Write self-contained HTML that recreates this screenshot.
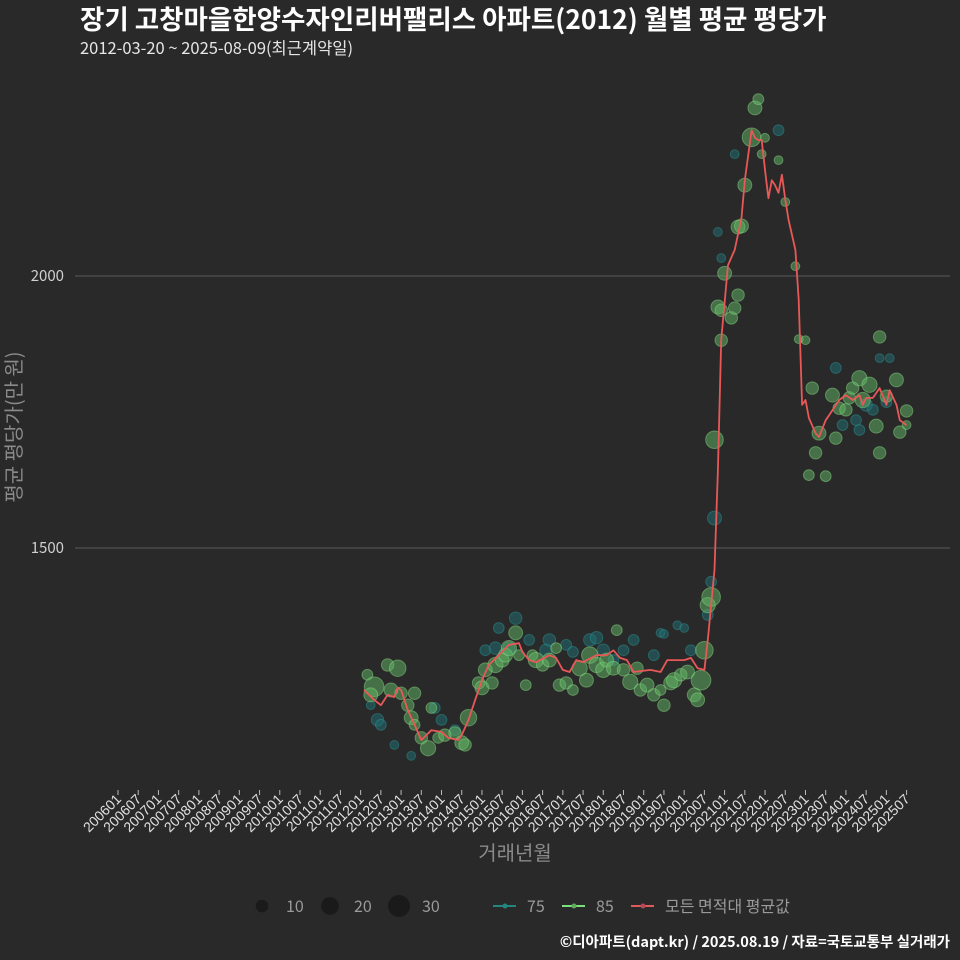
<!DOCTYPE html>
<html><head><meta charset="utf-8">
<style>
html,body{margin:0;padding:0;background:#2a2929;}
svg{display:block;font-family:"Noto Sans CJK KR","Liberation Sans",sans-serif;}
.xt{font-family:"Liberation Sans",sans-serif !important;font-size:14px;}
</style></head>
<body>
<svg id="chart" width="960" height="960" viewBox="0 0 960 960" xmlns="http://www.w3.org/2000/svg">
<rect width="960" height="960" fill="#2a2929"/>
<text x="80" y="29" fill="#ffffff" font-size="26.5" font-weight="bold">장기 고창마을한양수자인리버팰리스 아파트(2012) 월별 평균 평당가</text>
<text x="80" y="54" fill="#e6e6e6" font-size="16.5">2012-03-20 ~ 2025-08-09(최근계약일)</text>
<g id="grid"></g>
<g id="xaxis"></g>
<g id="bubbles75"></g>
<g id="bubbles85"></g>
<g id="avgline"></g>
<text x="515" y="860" text-anchor="middle" fill="#8a8a8a" font-size="20">거래년월</text>
<text transform="translate(21,427) rotate(-90)" text-anchor="middle" fill="#8a8a8a" font-size="20">평균 평당가(만 원)</text>
<g font-size="16" fill="#9a9a9a">
  <circle cx="262" cy="906" r="6.3" fill="#1a1a1a"/>
  <text x="286" y="912">10</text>
  <circle cx="330" cy="906" r="8.9" fill="#1a1a1a"/>
  <text x="354" y="912">20</text>
  <circle cx="399" cy="906" r="11" fill="#1a1a1a"/>
  <text x="422" y="912">30</text>
  <line x1="493" y1="906" x2="516" y2="906" stroke="#23877f" stroke-width="2"/>
  <circle cx="505" cy="906" r="2.5" fill="#23877f"/>
  <text x="527" y="912">75</text>
  <line x1="562" y1="906" x2="585" y2="906" stroke="#7be07a" stroke-width="2"/>
  <circle cx="574" cy="906" r="2.5" fill="#5fa85e"/>
  <text x="596" y="912">85</text>
  <line x1="631" y1="906" x2="654" y2="906" stroke="#e05a5a" stroke-width="2"/>
  <circle cx="643" cy="906" r="2.5" fill="#b04a5a"/>
  <text x="665" y="912">모든 면적대 평균값</text>
</g>
<text x="950" y="947" text-anchor="end" fill="#ffffff" font-size="14.5" font-weight="bold">©디아파트(dapt.kr) / 2025.08.19 / 자료=국토교통부 실거래가</text>
</svg>
<script>
// months are indices since 2006-01
const avgMonths=[73,76,78,80,82,83,84,86,88,90,91,93,96,98,101,102,104,106,108,110,113,116,119,120,122,124,128,130,132,134,136,138,142,145,147,149,151,153,158,161,163,168,170,172,174,175,177,178,179,181,183,185,186,188,189,190,191,192,193,194,195,196,197,198,199,201,202,203,204,205,207,208,210,211,214,216,218,220,221,222,224,226,228,229,231,232,234,235];
const avgValues=[1239,1221,1211,1230,1226,1243,1239,1202,1175,1147,1153,1165,1162,1151,1147,1156,1184,1221,1257,1285,1303,1322,1325,1309,1294,1290,1303,1298,1276,1272,1294,1290,1303,1303,1312,1298,1294,1272,1276,1272,1294,1294,1298,1279,1276,1331,1460,1643,1882,2020,2048,2107,2176,2268,2254,2250,2250,2195,2143,2176,2167,2153,2186,2140,2103,2048,1956,1763,1772,1739,1711,1704,1735,1744,1772,1781,1772,1781,1763,1776,1776,1794,1763,1790,1763,1735,1726];
const g85Months=[74,76,75,80,83,81,84,86,87,88,88,90,92,93,95,97,100,102,103,104,107,108,109,111,112,114,115,116,118,119,121,123,124,126,128,130,131,133,135,137,139,140,142,144,145,147,148,150,152,154,155,157,159,161,162,164,165,167,169,171,172,173,174,175,176,177,179,178,179,180,182,183,184,184,185,186,188,189,190,191,192,196,198,201,202,204,206,205,207,208,210,212,213,214,216,217,218,220,221,223,225,226,226,228,231,232,234,234];
const g85Values=[1267,1245,1230,1285,1279,1239,1233,1211,1188,1233,1175,1151,1132,1206,1151,1156,1160,1142,1138,1188,1252,1243,1276,1252,1285,1294,1303,1316,1344,1303,1248,1303,1294,1285,1294,1316,1248,1252,1239,1279,1257,1303,1285,1276,1294,1279,1349,1276,1254,1279,1239,1248,1230,1239,1211,1252,1257,1267,1272,1230,1221,1257,1312,1395,1410,1699,1882,1943,1937,2005,1923,1941,1965,2090,2092,2167,2255,2309,2325,2224,2254,2213,2136,2018,1884,1882,1794,1634,1675,1711,1632,1781,1702,1757,1754,1776,1794,1812,1772,1800,1724,1888,1675,1779,1809,1713,1752,1726];
const g85Counts=[6,20,10,8,14,10,8,8,10,8,6,8,12,6,6,8,8,10,8,14,8,10,10,8,12,10,10,12,10,6,6,6,12,8,10,6,8,8,6,12,10,14,12,12,10,10,6,8,12,8,8,10,8,6,8,10,12,8,10,10,10,20,16,12,18,16,8,10,8,10,8,8,8,10,10,10,18,10,6,4,4,4,4,4,4,4,8,6,8,10,6,10,8,8,8,8,8,12,12,12,10,8,8,8,10,8,8,4];
const t75Months=[75,77,78,82,87,94,96,100,109,112,113,116,118,122,127,128,133,135,140,142,144,147,150,153,159,161,162,166,168,170,175,176,177,178,179,183,196,213,215,219,220,222,224,226,229,228];
const t75Values=[1211,1184,1175,1138,1118,1206,1184,1165,1312,1316,1353,1316,1371,1331,1312,1331,1322,1309,1331,1335,1312,1294,1312,1331,1303,1344,1342,1358,1353,1312,1377,1438,1555,2081,2033,2224,2268,1831,1726,1735,1717,1763,1754,1849,1849,1768];
const t75Counts=[4,8,6,4,4,6,6,6,6,8,6,8,8,6,8,8,6,6,8,8,8,6,6,6,6,4,4,4,4,6,6,6,10,4,4,4,6,6,6,6,6,8,6,4,4,6];
const xTickLabels=[];
for(let y=2006;y<=2025;y++){xTickLabels.push(y+"01");xTickLabels.push(y+"07");}
const yTicks=[1500,2000];

const NS="http://www.w3.org/2000/svg";
function xScale(m){return 118+m*3.37;}
function yScale(v){return 548-(v-1500)*0.544;}
function rScale(n){return 2.2*Math.sqrt(n);}
function mk(tag,attrs,parent){const e=document.createElementNS(NS,tag);for(const k in attrs)e.setAttribute(k,attrs[k]);parent.appendChild(e);return e;}

const grid=document.getElementById('grid');
yTicks.forEach(t=>{
  const l=mk('line',{x1:75,x2:950,y1:yScale(t),y2:yScale(t),stroke:'#5a5a5a','stroke-width':1},grid);
  
  
  const tx=mk('text',{x:64,y:yScale(t)+5,'text-anchor':'end',fill:'#d0d0d0','font-size':15},grid);
  tx.textContent=t;
  
  
});
const xa=document.getElementById('xaxis');
xTickLabels.forEach((lab,i)=>{
  const x=xScale(i*6);
  const tk=mk('line',{x1:x,x2:x,y1:790,y2:795,stroke:'#bbbbbb','stroke-width':1},xa);
  
  
  const t=mk('text',{transform:`translate(${x+4},800) rotate(-45)`,'text-anchor':'end',fill:'#e0e0e0','class':'xt'},xa);
  t.textContent=lab;
  
  
});
function bubbles(id,months,values,counts,fill,stroke,name){
  const g=document.getElementById(id);
  months.forEach((m,i)=>{
    const c=mk('circle',{cx:xScale(m),cy:yScale(values[i]),r:rScale(counts[i]),fill:fill,'fill-opacity':0.5,stroke:stroke,'stroke-opacity':0.45,'stroke-width':1},g);
    
    
  });
}
bubbles('bubbles75',t75Months,t75Values,t75Counts,'#1f6f73','#2a9a98','bubble-75');
bubbles('bubbles85',g85Months,g85Values,g85Counts,'#62b866','#8fe08a','bubble-85');
const lg=document.getElementById('avgline');
const pts=avgMonths.map((m,i)=>xScale(m).toFixed(1)+','+yScale(avgValues[i]).toFixed(1)).join(' ');
const pl=mk('polyline',{points:pts,fill:'none',stroke:'#e85858','stroke-width':1.8,'stroke-linejoin':'round'},lg);


</script>
</body></html>
